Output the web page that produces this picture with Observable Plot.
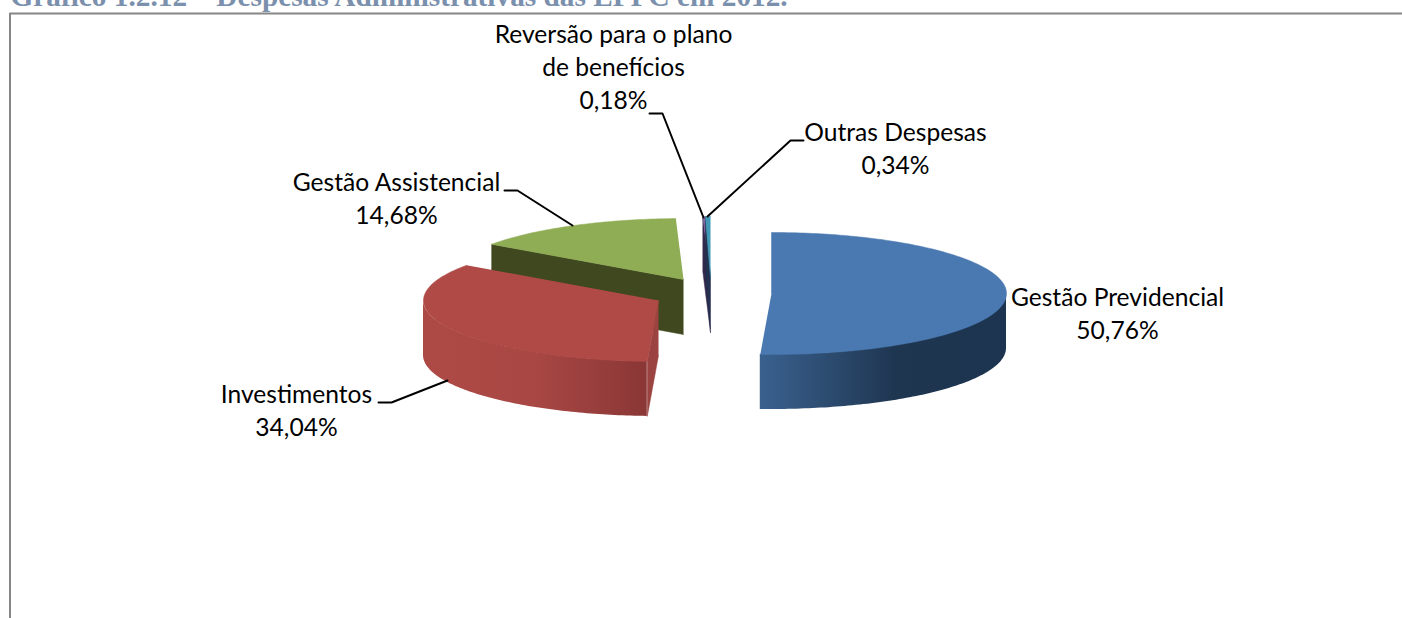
<!DOCTYPE html>
<html><head><meta charset="utf-8">
<style>html,body{margin:0;padding:0;background:#fff;overflow:hidden}svg{display:block}</style>
<script src="https://cdn.jsdelivr.net/npm/d3@7"></script>
<script src="https://cdn.jsdelivr.net/npm/@observablehq/plot@0.6"></script>
</head><body><script>
const categories = ["Gestão Previdencial", "Investimentos", "Gestão Assistencial", "Reversão para o plano\nde benefícios", "Outras Despesas"];
const values = [50.76, 34.04, 14.68, 0.18, 0.34];
const titleText = "Gráfico 1.2.12 – Despesas Administrativas das EFPC em 2012.";
// exploded slice centres, pie shape (page pixels on the identity x/y scales)
const centers = [[771, 293], [658, 300], [683, 279], [710, 277], [710, 277]];
const labelAt = [[1117, 315], [296, 412], [396, 200], [613, 68], [895, 150]];
const leaders = [
  null,
  [[378, 402], [391, 402], [447, 380]],
  [[504, 190], [517, 190], [572, 225]],
  [[649, 113], [662, 113], [703, 217]],
  [[803, 140], [790, 140], [707, 216]]
];
const rx = 235, ry = 61, depth = 55;
const topColors = ["#4a78b0", "#af4a46", "#8fad54", "#8064a2", "#4198b5"];
const faceColors = [null, "#9a4340", "#40481f", "#33294b", "#22314f"];

let acc = 0;
const slices = values.map((v, i) => {
  const a0 = acc * 3.6; acc += v; const a1 = acc * 3.6;
  return {i, a0, a1, c: centers[i]};
});
const pt = (s, a, dy = 0) => {
  const r = a * Math.PI / 180;
  return [s.c[0] + rx * Math.sin(r), s.c[1] - ry * Math.cos(r) + dy];
};
const arc = (s, a0, a1) => {
  const n = Math.max(2, Math.ceil(Math.abs(a1 - a0)));
  return d3.range(n + 1).map(k => a0 + (a1 - a0) * k / n);
};
const topFace = s => [[...s.c], ...arc(s, s.a0, s.a1).map(a => pt(s, a))];
const startFace = s => {
  const p = pt(s, s.a0);
  return [[...s.c], p, [p[0], p[1] + depth], [s.c[0], s.c[1] + depth]];
};
const poly = (pts, fill) => Plot.line(pts, {x: d => d[0], y: d => d[1], fill, stroke: fill, strokeWidth: 0.5, curve: "linear"});
const wall = (s, a0, a1, fill) => Plot.areaY(arc(s, a0, a1), {
  x: a => pt(s, a)[0], y1: a => pt(s, a)[1], y2: a => pt(s, a)[1] + depth, fill, curve: "linear"
});
const gradient = (id, stops) => () => {
  const d = d3.create("svg:defs");
  const g = d.append("linearGradient").attr("id", id).attr("x1", 0).attr("x2", 1).attr("y1", 0).attr("y2", 0);
  stops.forEach(([o, c]) => g.append("stop").attr("offset", o).attr("stop-color", c));
  return d.node();
};
const label = i => categories[i] + "\n" + values[i].toFixed(2).replace(".", ",") + "%";
const [sB, sR, sG, sP, sT] = slices;

document.body.append(Plot.plot({
  width: 1402, height: 618, margin: 0,
  x: {domain: [0, 1402], range: [0, 1402], axis: null},
  y: {domain: [0, 618], range: [0, 618], axis: null},
  style: {background: "#fff"},
  marks: [
    gradient("gBlue", [[0, "#3a618f"], [0.55, "#1f3651"], [1, "#1d3450"]]),
    gradient("gRed", [[0, "#ae4a46"], [0.5, "#a84744"], [1, "#8a3736"]]),
    Plot.text([titleText], {x: () => 10, y: () => 5.5, text: d => d, textAnchor: "start", lineAnchor: "bottom", fontFamily: "Liberation Serif", fontWeight: "bold", fontSize: 29.3, fill: "#7b90ad"}),
    Plot.ruleY([13], {x1: 9.5, x2: 1402, stroke: "#868686", strokeWidth: 2}),
    Plot.ruleX([9.5], {y1: 13, y2: 618, stroke: "#868686", strokeWidth: 2}),
    // green
    poly(startFace(sG), faceColors[2]),
    poly(topFace(sG), topColors[2]),
    // thin slices
    poly(startFace(sP), faceColors[3]),
    poly(topFace(sP), topColors[3]),
    poly(startFace(sT), faceColors[4]),
    poly(topFace(sT), topColors[4]),
    // red
    poly(startFace(sR), faceColors[1]),
    wall(sR, sR.a0, 270, "url(#gRed)"),
    poly(topFace(sR), topColors[1]),
    // blue
    wall(sB, 90, sB.a1, "url(#gBlue)"),
    poly(topFace(sB), topColors[0]),
    // leaders
    ...leaders.filter(Boolean).map(l => Plot.line(l, {x: d => d[0], y: d => d[1], stroke: "#000", strokeWidth: 2, curve: "linear"})),
    // labels
    Plot.text(categories.map((_, i) => i), {
      x: i => labelAt[i][0], y: i => labelAt[i][1] - 3.5, text: label,
      fontFamily: "Lato", fontSize: 24.6, lineHeight: 1.34, fill: "#000", textAnchor: "middle"
    })
  ]
}));
</script></body></html>
